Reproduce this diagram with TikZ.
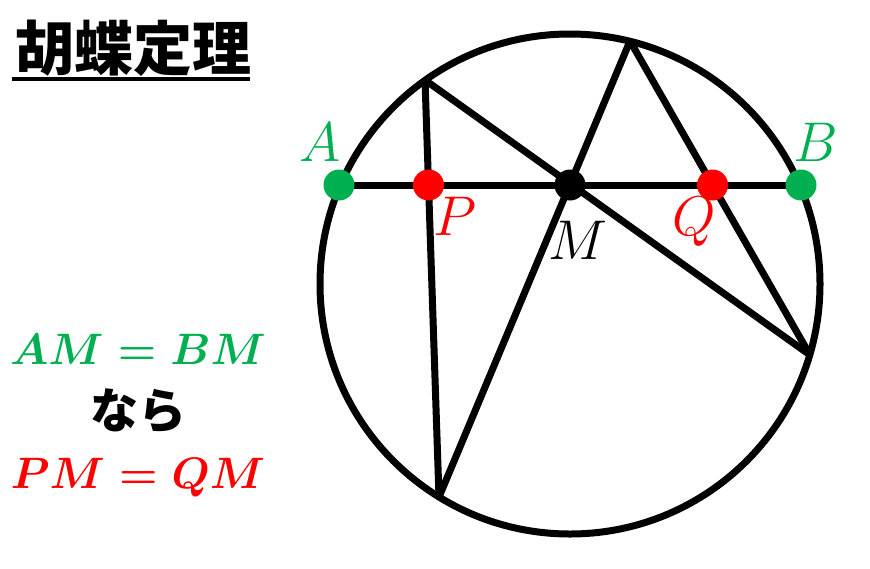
\documentclass[tikz,border=0pt]{standalone}
\usepackage{fix-cm}
\usepackage{fontspec}
\newfontfamily\jpfont{Noto Sans CJK JP}
\usepackage{tikz}
\definecolor{mygreen}{RGB}{0,176,80}
\definecolor{myred}{RGB}{255,0,0}

\begin{document}
\begin{tikzpicture}[x=1pt, y=-1pt, line width=7pt, line join=round,
  dot/.style={circle, fill=#1, inner sep=0pt, minimum size=31pt},
  lbl/.style={inner sep=0pt, font=\fontsize{56}{60}\selectfont},
  eq/.style={inner sep=0pt, font=\fontsize{44}{48}\selectfont\boldmath}]
\useasboundingbox (0,0) rectangle (870,568);

% Title
\node[anchor=west, inner sep=0pt, font=\fontsize{59}{62}\selectfont\jpfont\bfseries] (title) at (12,48) {胡蝶定理};
\draw[line width=3.5pt] (12,79) coordinate (ulL) -- (250,79) coordinate (ulR);

% Circle and points on it
\coordinate (O) at (570,284);
\draw (O) circle[radius=250];
\coordinate (C) at (425,80);
\coordinate (T) at (630,41);
\coordinate (D) at (439,497);
\coordinate (E) at (810,355);

% Chord AB and its midpoint
\coordinate (A) at (339,185);
\coordinate (B) at (801,185);
\coordinate (M) at (570,185);
\coordinate (P) at (intersection of C--D and A--B);
\coordinate (Q) at (intersection of T--E and A--B);

% Butterfly chords
\draw (C) -- (D);
\draw (C) -- (E);
\draw (T) -- (D);
\draw (T) -- (E);
\draw (A) -- (B);

% Dots
\node[dot=mygreen] (dA) at (A) {};
\node[dot=mygreen] (dB) at (B) {};
\node[dot=myred] (dP) at (P) {};
\node[dot=myred] (dQ) at (Q) {};
\node[dot=black] (dM) at (M) {};

% Labels
\node[lbl, text=mygreen] (lA) at (320,142) {$A$};
\node[lbl, text=mygreen] (lB) at (816,142) {$B$};
\node[lbl, text=myred] (lP) at (455,216) {$P$};
\node[lbl, text=myred] (lQ) at (694,222) {$Q$};
\node[lbl] (lM) at (578,240) {$M$};

% Statement
\node[eq, text=mygreen] (eq1) at (138,349) {$AM=BM$};
\node[inner sep=0pt, font=\fontsize{48}{52}\selectfont\jpfont\bfseries] (nara) at (138,411) {なら};
\node[eq, text=myred] (eq2) at (138,478) {$PM=QM$};
\end{tikzpicture}
\end{document}
